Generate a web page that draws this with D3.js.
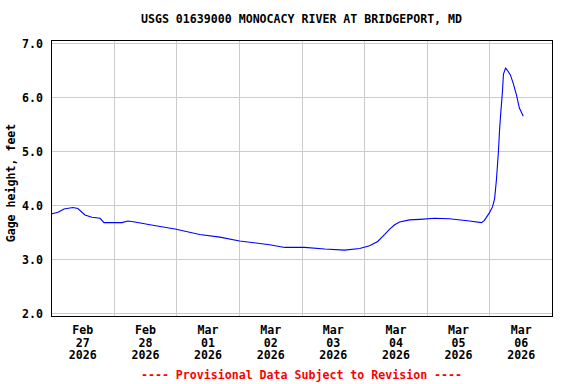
<!DOCTYPE html>
<html>
<head>
<meta charset="utf-8">
<script src="https://cdn.jsdelivr.net/npm/d3@7"></script>
<style>
  body { margin: 0; background: #fff; }
  text { font-family: "DejaVu Sans Mono", monospace; font-weight: bold; font-size: 11.6px; }
</style>
</head>
<body>
<div id="chart"></div>
<script>
// Data: hours since 2026-02-27 00:00 and gage height (feet)
var hours = [0, 2.7, 5, 8.4, 10.3, 13, 15.7, 18.8, 20.3, 27.2, 29.5, 32.2, 37.9, 47.5, 57, 64.7,
    72.3, 83.8, 89.6, 97.2, 104.9, 112.5, 118.3, 122.1, 125.2, 127.9, 129.8, 131.7, 133.6, 137.4,
    141.3, 147, 152.7, 160.4, 165, 166.1, 168, 169.2, 170, 170.7, 171.5, 171.9, 172.3, 173, 173.4,
    174.2, 174.9, 176.1, 177.2, 178.4, 179.5, 181];
var gage = [3.84, 3.87, 3.93, 3.96, 3.94, 3.82, 3.78, 3.76, 3.68, 3.68, 3.71, 3.69, 3.64, 3.56, 3.46, 3.41,
    3.34, 3.27, 3.22, 3.22, 3.19, 3.17, 3.20, 3.25, 3.33, 3.46, 3.56, 3.64, 3.69, 3.73,
    3.74, 3.76, 3.75, 3.71, 3.68, 3.72, 3.86, 3.97, 4.12, 4.47, 5.02, 5.39, 5.67, 6.10, 6.43,
    6.54, 6.50, 6.41, 6.25, 6.04, 5.80, 5.65];
var yTicks = [2, 3, 4, 5, 6, 7];
var dayLabels = [["Feb", "27", "2026"], ["Feb", "28", "2026"], ["Mar", "01", "2026"], ["Mar", "02", "2026"],
    ["Mar", "03", "2026"], ["Mar", "04", "2026"], ["Mar", "05", "2026"], ["Mar", "06", "2026"]];
var title = "USGS 01639000 MONOCACY RIVER AT BRIDGEPORT, MD";
var yTitle = "Gage height, feet";
var footer = "---- Provisional Data Subject to Revision ----";

// SVG size and margins
var svgWidth = 576;
var svgHeight = 384;
var margin = { top: 40, right: 24, bottom: 68, left: 51 };
var width = svgWidth - margin.left - margin.right;
var height = svgHeight - margin.top - margin.bottom;

var svg = d3.select("#chart").append("svg")
    .attr("width", svgWidth)
    .attr("height", svgHeight);

var chart = svg.append("g")
    .attr("transform", `translate(${margin.left}, ${margin.top})`);

var start = new Date(2026, 1, 27, 0, 0);
var end = new Date(2026, 2, 7, 0, 0);
var data = hours.map((h, i) => ({ t: new Date(start.getTime() + h * 3600000), v: gage[i] }));

var x = d3.scaleTime().domain([start, end]).range([0, width]);
var y = d3.scaleLinear().domain([2, 7]).range([273.3, 3.3]);

// vertical grid at day boundaries
var days = d3.timeDay.range(d3.timeDay.offset(start, 1), end);
chart.append("g")
    .attr("transform", `translate(0, ${height})`)
    .call(d3.axisBottom(x).tickValues(days).tickSize(-height).tickFormat(""))
    .call(g => g.select(".domain").remove())
    .call(g => g.selectAll("line").attr("stroke", "#cccccc").attr("shape-rendering", "crispEdges"));

// horizontal grid + y labels
chart.append("g")
    .call(d3.axisLeft(y).tickValues(yTicks).tickSize(-width).tickPadding(8).tickFormat(d3.format(".1f")))
    .call(g => g.select(".domain").remove())
    .call(g => g.selectAll("line").attr("stroke", "#cccccc").attr("shape-rendering", "crispEdges"))
    .call(g => g.selectAll("text").attr("fill", "#000").attr("dy", "0.35em")
        .style("font-family", "'DejaVu Sans Mono', monospace").style("font-size", "11.6px").style("font-weight", "bold"));

// x labels at noon of each day
var noons = d3.timeDay.range(start, end).map(d => d3.timeHour.offset(d, 12));
var xLab = chart.append("g")
    .attr("transform", `translate(0, ${height})`)
    .call(d3.axisBottom(x).tickValues(noons).tickSize(0).tickFormat(""))
    .call(g => g.select(".domain").remove());
xLab.selectAll(".tick").each(function (d, i) {
    var t = d3.select(this).append("text")
        .attr("fill", "#000")
        .attr("text-anchor", "middle");
    dayLabels[i].forEach((s, j) => {
        t.append("tspan").attr("x", 0).attr("y", 18 + j * 12.6).text(s);
    });
});

// data line
chart.append("path")
    .datum(data)
    .attr("fill", "none")
    .attr("stroke", "#0000ff")
    .attr("stroke-width", 1.1)
    .attr("d", d3.line().x(d => x(d.t)).y(d => y(d.v)));

// frame
chart.append("rect")
    .attr("x", 0.5).attr("y", 0.5)
    .attr("width", width).attr("height", height)
    .attr("fill", "none").attr("stroke", "#000")
    .attr("shape-rendering", "crispEdges");

// titles
svg.append("text")
    .attr("x", margin.left + width / 2).attr("y", 23)
    .attr("text-anchor", "middle")
    .text(title);

svg.append("text")
    .attr("transform", "translate(15, 183) rotate(-90)")
    .attr("text-anchor", "middle")
    .text(yTitle);

svg.append("text")
    .attr("x", margin.left + width / 2).attr("y", 379)
    .attr("text-anchor", "middle")
    .attr("fill", "#ff0000")
    .text(footer);
</script>
</body>
</html>
